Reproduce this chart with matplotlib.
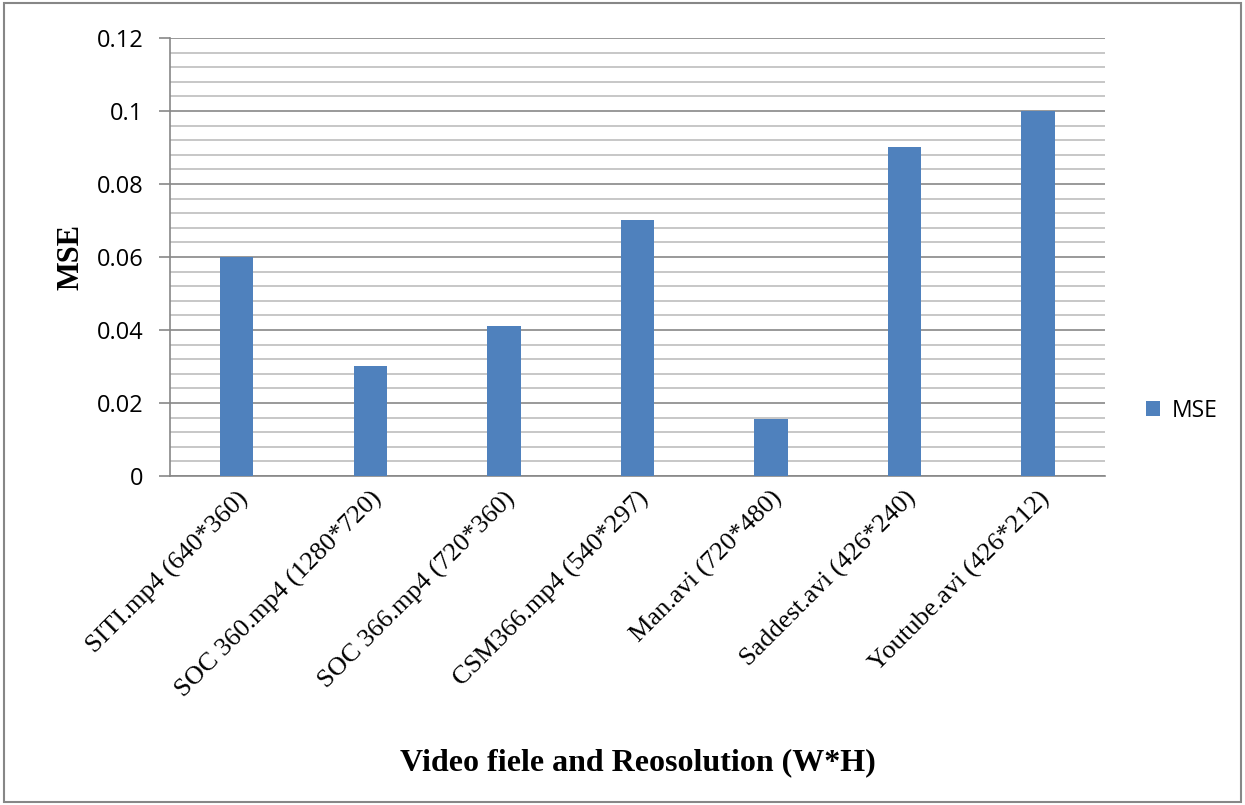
import matplotlib
matplotlib.use('Agg')
import matplotlib.pyplot as plt
import numpy as np
from matplotlib.patches import Rectangle

videos = ['SITI.mp4 (640*360)', 'SOC 360.mp4 (1280*720)', 'SOC 366.mp4 (720*360)',
          'CSM366.mp4 (540*297)', 'Man.avi (720*480)', 'Saddest.avi (426*240)',
          'Youtube.avi (426*212)']
mse = [0.06, 0.03, 0.041, 0.07, 0.0157, 0.09, 0.1]

fig = plt.figure(figsize=(12.45, 8.05), dpi=100)
ax = fig.add_axes([0.1365, 0.4087, 0.751, 0.5441])

x = np.arange(len(videos))
ax.bar(x, mse, width=0.25, color='#4F81BD', label='MSE', zorder=3)

ax.set_xlim(-0.5, len(videos) - 0.5)
ax.set_ylim(0, 0.12)
ax.set_yticks(np.arange(0, 0.121, 0.02))
ax.set_yticklabels(['0', '0.02', '0.04', '0.06', '0.08', '0.1', '0.12'],
                   fontsize=17, family='Open Sans')
ax.set_yticks(np.arange(0, 0.1201, 0.004), minor=True)
ax.yaxis.grid(True, which='major', color='#878787', linewidth=1.2, zorder=0)
ax.yaxis.grid(True, which='minor', color='#BEBEBE', linewidth=1.2, zorder=0)
ax.tick_params(axis='y', which='major', length=8, color='#878787', width=1.2, pad=11)
ax.tick_params(axis='y', which='minor', length=0)

ax.set_xticks(x)
ax.set_xticklabels(videos, rotation=45, ha='right', rotation_mode='anchor',
                   fontsize=19, family='Liberation Serif')
ax.tick_params(axis='x', length=0, pad=8)

for side in ['top', 'right']:
    ax.spines[side].set_visible(False)
for side in ['left', 'bottom']:
    ax.spines[side].set_color('#878787')
    ax.spines[side].set_linewidth(1.2)

ax.set_ylabel('MSE', fontsize=22, fontweight='bold', family='Liberation Serif', labelpad=8)
fig.text(0.512, 0.053, 'Video fiele and Reosolution (W*H)', ha='center', va='center',
         fontsize=23, fontweight='bold', family='Liberation Serif')

leg = fig.legend(loc='center left', bbox_to_anchor=(0.904, 0.49), frameon=False,
                 prop={'family': 'Open Sans', 'size': 16.5}, handlelength=0.6,
                 handleheight=0.6, handletextpad=0.5)

# outer frame around the chart area
fig.patches.append(Rectangle((0.003, 0.004), 0.994, 0.992, transform=fig.transFigure,
                             fill=False, edgecolor='#878787', linewidth=1.5))

fig.savefig('out.png', dpi=100)
